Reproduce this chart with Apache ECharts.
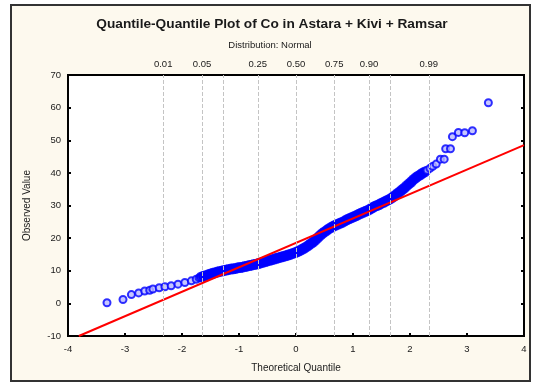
<!DOCTYPE html>
<html>
<head>
<meta charset="utf-8">
<script src="https://cdn.jsdelivr.net/npm/echarts@6/dist/echarts.min.js"></script>
<style>
  html, body { margin: 0; padding: 0; background: #ffffff; }
  #chart { width: 533px; height: 383px; }
</style>
</head>
<body>
<div id="chart"></div>
<script>
// Normal Q-Q plot of Co concentrations (Astara + Kivi + Ramsar)
// Theoretical normal quantile of each plotted observation
const theoreticalQuantile = [
  -3.316, -3.035, -2.888, -2.76, -2.654, -2.567, -2.51, -2.40, -2.30, -2.19,
  -2.07, -1.95, -1.835, -1.75,
  -1.70, -1.66, -1.62, -1.58, -1.54, -1.50, -1.46, -1.42, -1.38, -1.34,
  -1.30, -1.26, -1.22, -1.18, -1.14, -1.10, -1.06, -1.02, -0.98, -0.94,
  -0.90, -0.86, -0.82, -0.78, -0.74, -0.70, -0.66, -0.62, -0.58, -0.54,
  -0.50, -0.46, -0.42, -0.38, -0.34, -0.30, -0.26, -0.22, -0.18, -0.14,
  -0.10, -0.06, -0.02, 0.02, 0.06, 0.10, 0.14, 0.18, 0.22, 0.26,
  0.30, 0.34, 0.38, 0.42, 0.46, 0.50, 0.54, 0.58, 0.62, 0.66,
  0.70, 0.74, 0.78, 0.82, 0.86, 0.90, 0.94, 0.98, 1.02, 1.06,
  1.10, 1.14, 1.18, 1.22, 1.26, 1.30, 1.34, 1.38, 1.42, 1.46,
  1.50, 1.54, 1.58, 1.62, 1.66, 1.70, 1.74, 1.78, 1.82, 1.86,
  1.90, 1.94, 1.98, 2.02, 2.06, 2.10, 2.14, 2.18, 2.22, 2.26,
  2.30, 2.35, 2.40, 2.46,
  2.533, 2.60, 2.626, 2.71, 2.744, 2.849, 2.96, 3.095, 3.375
];

// Observed Co value at each quantile
const observedCo = [
  0.2, 1.2, 2.7, 3.2, 3.8, 4.0, 4.4, 4.8, 5.1, 5.4,
  5.9, 6.4, 6.9, 7.4,
  7.8, 8.1, 8.3, 8.5, 8.8, 9.0, 9.2, 9.4, 9.6, 9.8,
  9.9, 10.1, 10.2, 10.4, 10.5, 10.6, 10.7, 10.9, 11.0, 11.1,
  11.3, 11.4, 11.6, 11.7, 11.9, 12.0, 12.2, 12.4, 12.6, 12.8,
  13.0, 13.2, 13.4, 13.6, 13.8, 14.0, 14.2, 14.4, 14.6, 14.8,
  15.0, 15.3, 15.5, 15.8, 16.1, 16.5, 16.9, 17.3, 17.8, 18.3,
  18.8, 19.4, 20.1, 20.8, 21.4, 21.9, 22.4, 22.9, 23.3, 23.7,
  24.0, 24.3, 24.6, 24.9, 25.3, 25.7, 26.0, 26.3, 26.6, 26.9,
  27.3, 27.6, 27.9, 28.2, 28.5, 28.9, 29.3, 29.7, 30.0, 30.3,
  30.7, 31.0, 31.4, 31.7, 32.1, 32.6, 33.1, 33.7, 34.2, 34.8,
  35.3, 36.0, 36.6, 37.2, 37.9, 38.5, 39.0, 39.4, 39.9, 40.3,
  40.8, 41.4, 42.0, 42.7,
  44.2, 44.2, 47.4, 47.4, 51.1, 52.4, 52.3, 52.9, 61.5
];

// Reference normal line (end points in quantile / value units)
const fitQuantile = [-3.81, 4];
const fitValue = [-10, 48.5];

// Probability scale shown along the top
const probLabels = ['0.01', '0.05', '', '0.25', '0.50', '0.75', '0.90', '', '0.99'];
const probQuantiles = [-2.326, -1.645, -1.282, -0.674, 0, 0.674, 1.282, 1.645, 2.326];

const FONT = '"Liberation Sans", Arial, sans-serif';
const TEXT = '#1a1a1a';

const chart = echarts.init(document.getElementById('chart'), null, { renderer: 'canvas' });

// Where observations crowd together the rings merge into a solid band
const points = theoreticalQuantile.map((q, i) => {
  const prev = i > 0 ? q - theoreticalQuantile[i - 1] : Infinity;
  const next = i < theoreticalQuantile.length - 1 ? theoreticalQuantile[i + 1] - q : Infinity;
  const crowded = prev < 0.05 && next < 0.05;
  return {
    value: [q, observedCo[i]],
    symbolSize: crowded ? 9 : 7,
    itemStyle: crowded ? { color: '#0000ff', borderColor: '#0000ff' } : undefined
  };
});
const fitLine = fitQuantile.map((q, i) => [q, fitValue[i]]);

chart.setOption({
  animation: false,
  backgroundColor: '#ffffff',
  textStyle: { fontFamily: FONT },
  graphic: [
    {
      type: 'rect', z: -10, silent: true,
      shape: { x: 11, y: 5, width: 519, height: 376 },
      style: { fill: '#fdf9ee', stroke: '#333333', lineWidth: 2 }
    },
    {
      type: 'text', silent: true,
      style: {
        text: 'Quantile-Quantile Plot of Co in Astara + Kivi + Ramsar',
        x: 272, y: 24, textAlign: 'center', textVerticalAlign: 'middle',
        font: 'bold 13.7px ' + FONT, fill: TEXT
      }
    },
    {
      type: 'text', silent: true,
      style: {
        text: 'Distribution: Normal',
        x: 270, y: 45, textAlign: 'center', textVerticalAlign: 'middle',
        font: '9.5px ' + FONT, fill: TEXT
      }
    }
  ],
  grid: {
    left: 68, right: 9, top: 75, bottom: 47,
    show: true, backgroundColor: '#ffffff',
    borderColor: '#000000', borderWidth: 2
  },
  xAxis: [
    {
      type: 'value', min: -4, max: 4, interval: 1, position: 'bottom',
      name: 'Theoretical Quantile', nameLocation: 'middle', nameGap: 27,
      nameTextStyle: { fontSize: 10, color: TEXT, fontFamily: FONT },
      axisLine: { show: true, onZero: false, lineStyle: { color: '#000', width: 2 } },
      axisTick: { show: true, inside: true, length: 3, lineStyle: { color: '#000', width: 2 } },
      axisLabel: { fontSize: 9.5, color: TEXT, margin: 8, fontFamily: FONT },
      splitLine: { show: false }
    }
  ],
  yAxis: [
    {
      type: 'value', min: -10, max: 70, interval: 10, position: 'left',
      name: 'Observed Value', nameLocation: 'middle', nameGap: 36, nameRotate: 90,
      nameTextStyle: { fontSize: 10, color: TEXT, fontFamily: FONT },
      axisLine: { show: true, onZero: false, lineStyle: { color: '#000', width: 2 } },
      axisTick: { show: true, inside: true, length: 3, lineStyle: { color: '#000', width: 2 } },
      axisLabel: { fontSize: 9.5, color: TEXT, margin: 7, fontFamily: FONT },
      splitLine: { show: false }
    },
    {
      type: 'value', min: -10, max: 70, interval: 10, position: 'right',
      axisLine: { show: true, onZero: false, lineStyle: { color: '#000', width: 2 } },
      axisTick: { show: true, inside: true, length: 3, lineStyle: { color: '#000', width: 2 } },
      axisLabel: { show: false },
      splitLine: { show: false }
    }
  ],
  series: [
    {
      type: 'scatter',
      data: points,
      symbol: 'circle',
      symbolSize: 7,
      itemStyle: { color: '#b8b8ff', borderColor: '#0000ff', borderWidth: 2 },
      z: 3,
      markLine: {
        silent: true,
        symbol: ['none', 'none'],
        lineStyle: { type: 'dashed', color: '#c4c4c4', width: 1 },
        label: {
          show: true, position: 'end', distance: 6,
          formatter: '{b}', fontSize: 9.5, color: TEXT, fontFamily: FONT
        },
        data: probQuantiles.map((q, i) => ({
          xAxis: q, name: probLabels[i],
          label: { show: probLabels[i] !== '' }
        }))
      }
    },
    {
      type: 'line',
      data: fitLine,
      showSymbol: false,
      symbol: 'none',
      lineStyle: { color: '#ff0000', width: 2 },
      z: 4
    }
  ]
});
</script>
</body>
</html>
